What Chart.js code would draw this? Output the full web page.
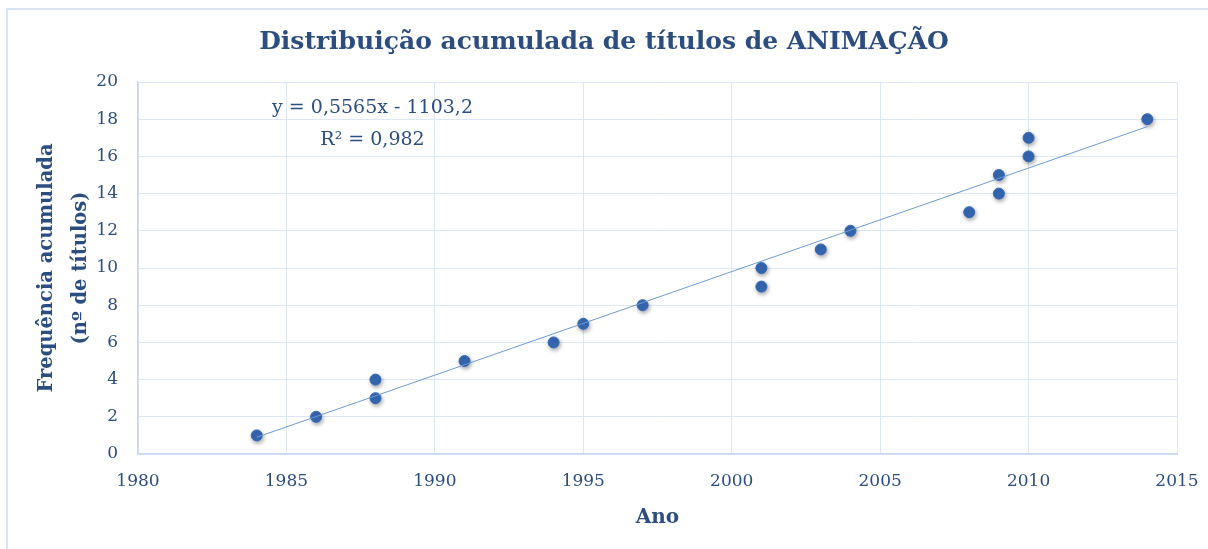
<!DOCTYPE html>
<html>
<head>
<meta charset="utf-8">
<script src="https://cdn.jsdelivr.net/npm/chart.js@4/dist/chart.umd.min.js"></script>
<style>
    html, body { margin: 0; padding: 0; background: #fff; }
    #wrap { position: relative; width: 1208px; height: 549px; }
</style>
</head>
<body>
<div id="wrap"><canvas id="chart" width="1208" height="549"></canvas></div>
<script>
// dados
const anos = [1984, 1986, 1988, 1988, 1991, 1994, 1995, 1997, 2001, 2001, 2003, 2004, 2008, 2009, 2009, 2010, 2010, 2014];
const freqAcum = [1, 2, 3, 4, 5, 6, 7, 8, 9, 10, 11, 12, 13, 14, 15, 16, 17, 18];
// linha de tendência (extremos)
const tendX = [1984, 2014];
const tendY = [0.9, 17.6];
const equacao = ['y = 0,5565x - 1103,2', 'R² = 0,982'];

const textColor = '#2c4d7f';
const gridColor = '#dde7f4';
const fontFamily = "'DejaVu Serif', serif";

const borderPlugin = {
    id: 'moldura',
    beforeDraw(chart) {
        const c = chart.ctx;
        c.save();
        c.strokeStyle = '#d9e5f5';
        c.lineWidth = 2;
        c.beginPath();
        c.moveTo(7, 549);
        c.lineTo(7, 9);
        c.lineTo(1208, 9);
        c.stroke();
        c.restore();
    },
    beforeDatasetDraw(chart, args) {
        if (args.index === 1) {
            chart.ctx.save();
            chart.ctx.shadowColor = 'rgba(0,0,0,0.35)';
            chart.ctx.shadowBlur = 4;
            chart.ctx.shadowOffsetX = 1;
            chart.ctx.shadowOffsetY = 2;
        }
    },
    afterDatasetDraw(chart, args) {
        if (args.index === 1) chart.ctx.restore();
    },
    afterDraw(chart) {
        const c = chart.ctx;
        const x = chart.scales.x.getPixelForValue(1987.9);
        c.save();
        c.fillStyle = textColor;
        c.font = "19px " + fontFamily;
        c.textAlign = 'center';
        c.textBaseline = 'middle';
        c.fillText(equacao[0], x, chart.scales.y.getPixelForValue(18.6));
        c.fillText(equacao[1], x, chart.scales.y.getPixelForValue(16.9));
        c.restore();
    }
};

const chart = new Chart(document.getElementById('chart'), {
    type: 'scatter',
    data: {
        datasets: [
            {
                type: 'line',
                label: 'Tendência',
                data: tendX.map((x, i) => ({ x: x, y: tendY[i] })),
                borderColor: '#6d9ad4',
                borderWidth: 1,
                pointRadius: 0,
                fill: false
            },
            {
                label: 'Frequência acumulada',
                data: anos.map((x, i) => ({ x: x, y: freqAcum[i] })),
                backgroundColor: '#3568b3',
                borderColor: '#3568b3',
                pointRadius: 5.5,
                pointHoverRadius: 5.5
            }
        ]
    },
    options: {
        responsive: false,
        animation: false,
        layout: {
            padding: 0
        },
        plugins: {
            legend: { display: false },
            tooltip: { enabled: false },
            title: {
                display: true,
                text: 'Distribuição acumulada de títulos de ANIMAÇÃO',
                color: textColor,
                font: { family: fontFamily, size: 25, weight: 'bold', lineHeight: 1.2 },
                padding: { top: 27, bottom: 25 }
            }
        },
        scales: {
            x: {
                type: 'linear',
                min: 1980,
                max: 2015,
                afterFit(scale) {
                    scale.height = 95;
                    scale.paddingLeft = 0;
                    scale.paddingRight = 31;
                },
                ticks: {
                    stepSize: 5,
                    color: textColor,
                    padding: 17,
                    font: { family: fontFamily, size: 17 },
                    callback: (v) => String(v)
                },
                grid: { color: gridColor, drawTicks: false },
                border: { color: '#c8d8ee', width: 1.5 },
                title: {
                    display: true,
                    text: 'Ano',
                    color: textColor,
                    font: { family: fontFamily, size: 20, weight: 'bold', lineHeight: 1.2 },
                    padding: { top: 0, bottom: 19 }
                }
            },
            y: {
                min: 0,
                max: 20,
                afterFit(scale) { scale.width = 138; },
                ticks: {
                    stepSize: 2,
                    color: textColor,
                    padding: 20,
                    font: { family: fontFamily, size: 17 }
                },
                grid: { color: gridColor, drawTicks: false },
                border: { color: '#c8d8ee', width: 1.5 },
                title: {
                    display: true,
                    text: ['Frequência acumulada', '(nº de títulos)'],
                    color: textColor,
                    font: { family: fontFamily, size: 19.5, weight: 'bold', lineHeight: 1.75 },
                    padding: { top: 30, bottom: 0 }
                }
            }
        }
    },
    plugins: [borderPlugin]
});
</script>
</body>
</html>
